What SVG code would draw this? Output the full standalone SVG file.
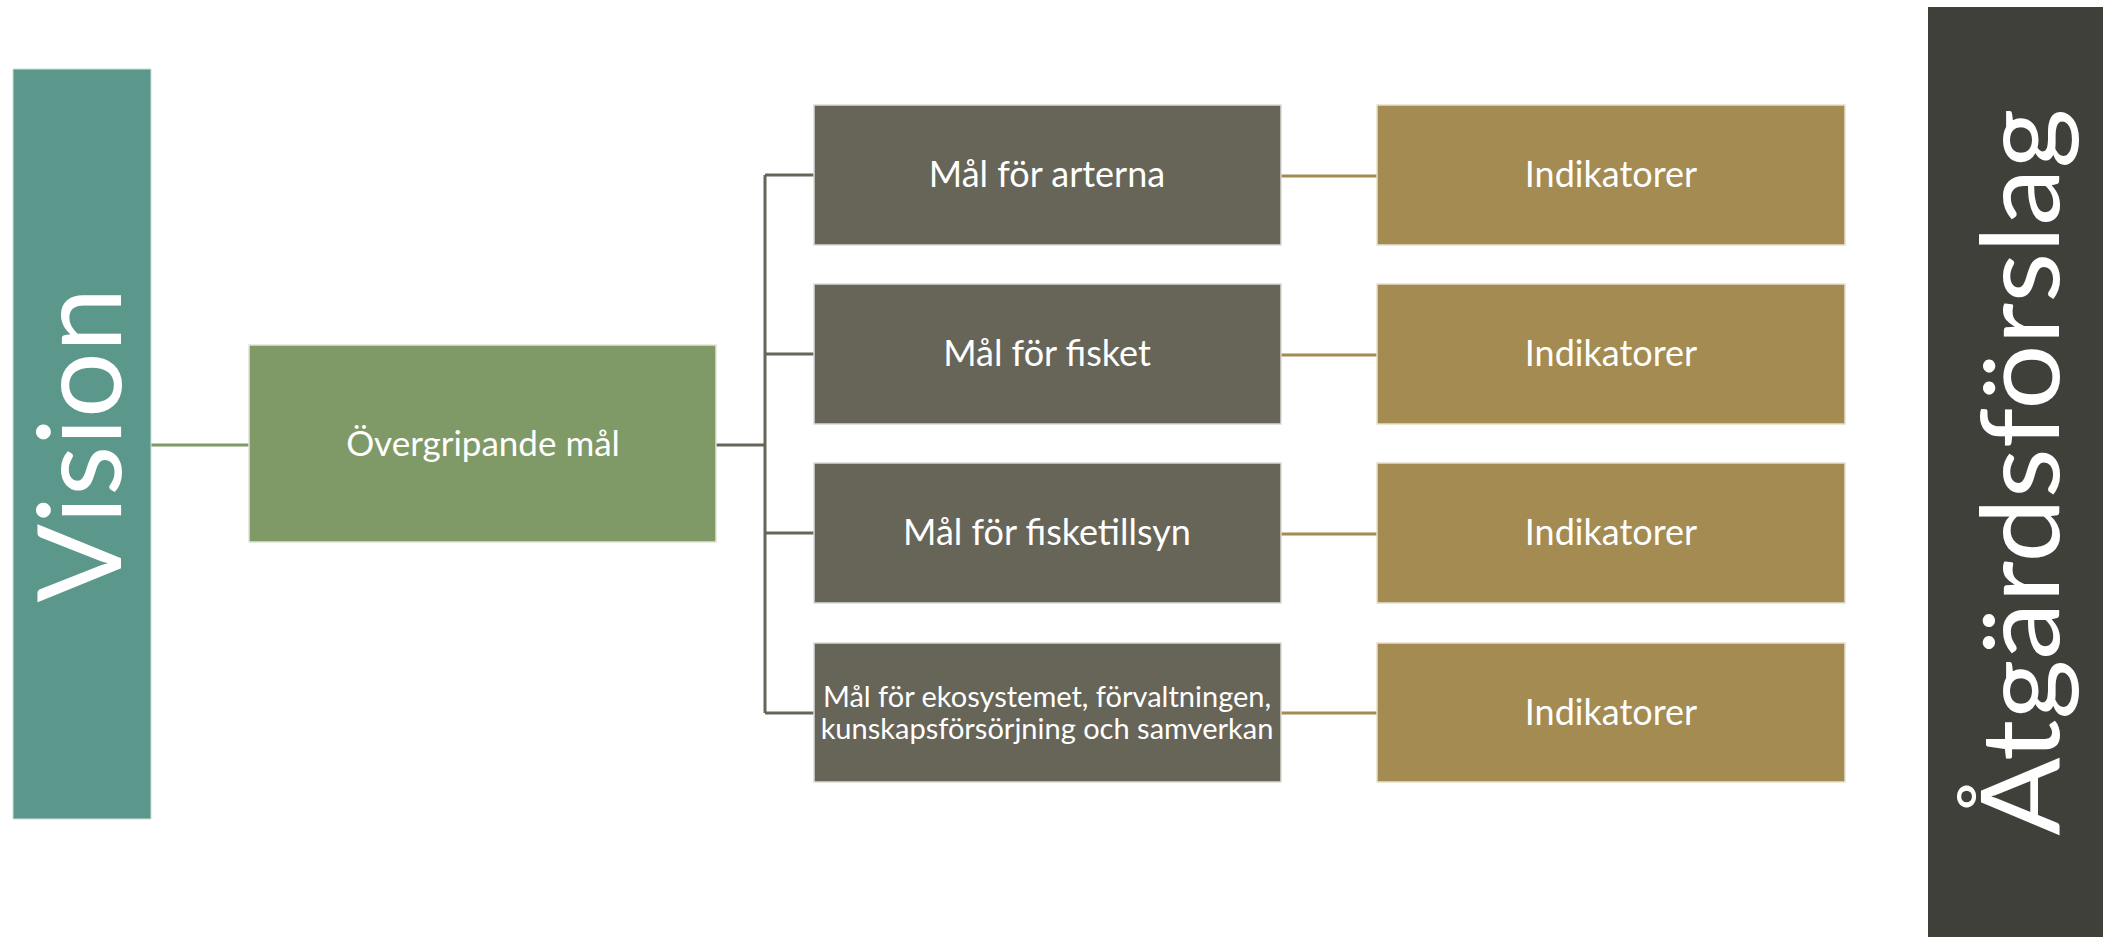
<svg xmlns="http://www.w3.org/2000/svg" width="2113" height="937" viewBox="0 0 2113 937">
<style>
.t{font-family:Lato,"Open Sans","Liberation Sans",sans-serif;fill:#ffffff;text-anchor:middle}
.goal{fill:#676458;stroke:#dcdad3;stroke-width:1.5}
.ind{fill:#a38b51;stroke:#e6e0cc;stroke-width:1.5}
.c{fill:none;stroke-width:3}
</style>
<rect width="2113" height="937" fill="#ffffff"/>
<g id="connectors">
<line class="c" x1="151" y1="445" x2="249" y2="445" stroke="#7f9a66"/>
<path class="c" stroke="#676458" d="M716,445 H765 M765,175 V713 M765,175 H814 M765,354 H814 M765,533 H814 M765,713 H814"/>
<g stroke="#a38b51" class="c">
<line x1="1281" y1="176" x2="1377" y2="176"/>
<line x1="1281" y1="355" x2="1377" y2="355"/>
<line x1="1281" y1="534" x2="1377" y2="534"/>
<line x1="1281" y1="713" x2="1377" y2="713"/>
</g>
</g>
<g id="vision">
<rect x="13" y="69" width="138" height="750" fill="#5c978b" stroke="#cfe0dc" stroke-width="1"/>
<text class="t" transform="translate(121,445) rotate(-90)" font-size="116">Vision</text>
</g>
<g id="atgardsforslag">
<rect x="1928" y="7" width="175" height="930" fill="#40403a"/>
<text class="t" transform="translate(2059,472) rotate(-90)" font-size="108" textLength="727" lengthAdjust="spacingAndGlyphs">Åtgärdsförslag</text>
</g>
<g id="overgripande">
<rect x="249" y="345" width="467" height="197" fill="#7f9a66" stroke="#dfe5d8" stroke-width="1.5"/>
<text class="t" x="483" y="456" font-size="35">Övergripande mål</text>
</g>
<g id="goal1">
<rect class="goal" x="814" y="105" width="467" height="140"/>
<text class="t" x="1047" y="187" font-size="36">Mål för arterna</text>
</g>
<g id="goal2">
<rect class="goal" x="814" y="284" width="467" height="140"/>
<text class="t" x="1047" y="366" font-size="36">Mål för fisket</text>
</g>
<g id="goal3">
<rect class="goal" x="814" y="463" width="467" height="140"/>
<text class="t" x="1047" y="545" font-size="36">Mål för fisketillsyn</text>
</g>
<g id="goal4">
<rect class="goal" x="814" y="643" width="467" height="139"/>
<text class="t" x="1047" y="707" font-size="29">Mål för ekosystemet, förvaltningen,</text>
<text class="t" x="1047" y="739" font-size="29">kunskapsförsörjning och samverkan</text>
</g>
<g id="ind1">
<rect class="ind" x="1377" y="105" width="468" height="140"/>
<text class="t" x="1611" y="187" font-size="36">Indikatorer</text>
</g>
<g id="ind2">
<rect class="ind" x="1377" y="284" width="468" height="140"/>
<text class="t" x="1611" y="366" font-size="36">Indikatorer</text>
</g>
<g id="ind3">
<rect class="ind" x="1377" y="463" width="468" height="140"/>
<text class="t" x="1611" y="545" font-size="36">Indikatorer</text>
</g>
<g id="ind4">
<rect class="ind" x="1377" y="643" width="468" height="139"/>
<text class="t" x="1611" y="725" font-size="36">Indikatorer</text>
</g>
</svg>
